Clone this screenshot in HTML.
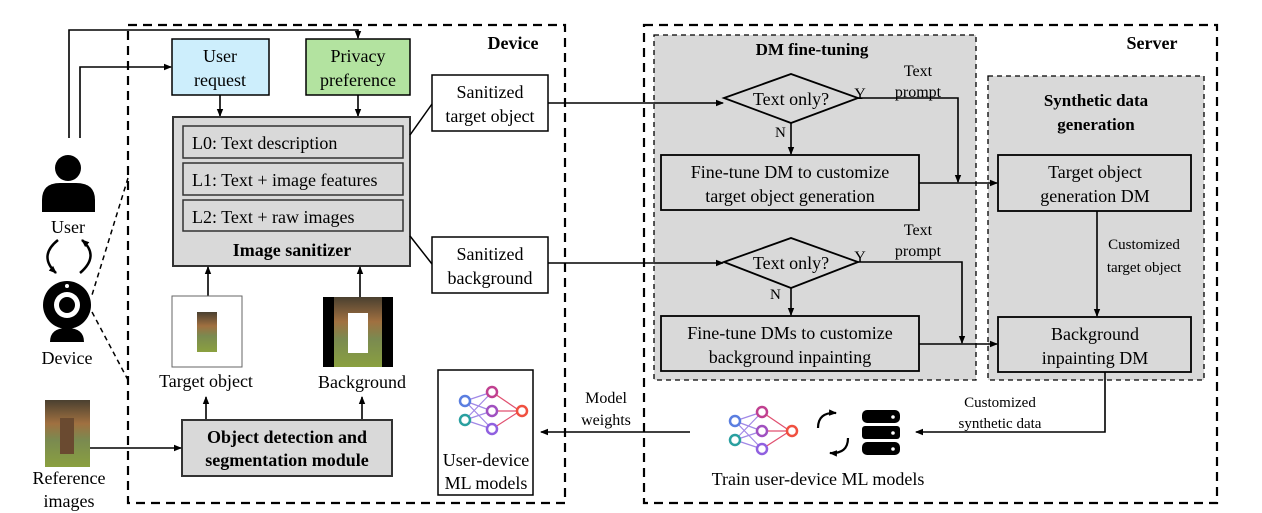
<!DOCTYPE html>
<html><head><meta charset="utf-8"><style>
html,body{margin:0;padding:0;background:#fff;}
svg{display:block;}
text{font-family:"Liberation Serif",serif;fill:#000;}
</style></head><body>
<svg width="1262" height="513" viewBox="0 0 1262 513" xmlns="http://www.w3.org/2000/svg">
<defs>
<marker id="a" markerWidth="8" markerHeight="8" refX="7" refY="4" orient="auto" markerUnits="userSpaceOnUse"><path d="M0,0.8 L8,4 L0,7.2 Z" fill="#000"/></marker>
<linearGradient id="img" x1="0" y1="0" x2="0" y2="1"><stop offset="0" stop-color="#4a4030"/><stop offset="0.35" stop-color="#a07040"/><stop offset="0.6" stop-color="#7a8a50"/><stop offset="1" stop-color="#8aa040"/></linearGradient>
</defs>

<rect x="128" y="25" width="437" height="478" fill="none" stroke="#000" stroke-width="2.2" stroke-dasharray="9,6"/>
<rect x="644" y="25" width="573" height="478" fill="none" stroke="#000" stroke-width="2.2" stroke-dasharray="9,6"/>
<rect x="654" y="35" width="322" height="345" fill="#d9d9d9" stroke="#000" stroke-width="1.3" stroke-dasharray="5,4"/>
<rect x="988" y="76" width="216" height="304" fill="#d9d9d9" stroke="#000" stroke-width="1.3" stroke-dasharray="5,4"/>

<text x="513" y="49" font-size="18" font-weight="bold" text-anchor="middle">Device</text>
<text x="1152" y="49" font-size="18" font-weight="bold" text-anchor="middle">Server</text>
<text x="812" y="55" font-size="17" font-weight="bold" text-anchor="middle">DM fine-tuning</text>
<text x="1096" y="106" font-size="17" font-weight="bold" text-anchor="middle">Synthetic data</text>
<text x="1096" y="130" font-size="17" font-weight="bold" text-anchor="middle">generation</text>

<circle cx="68" cy="168" r="13" fill="#000"/>
<path d="M42,212 L42,200 Q42,183 60,183 L76,183 Q95,183 95,200 L95,212 Z" fill="#000"/>
<text x="68" y="233" font-size="18" text-anchor="middle">User</text>
<path d="M58,240 Q38,256 56,273" fill="none" stroke="#000" stroke-width="2.5" marker-end="url(#a)"/>
<path d="M80,273 Q100,256 82,240" fill="none" stroke="#000" stroke-width="2.5" marker-end="url(#a)"/>
<circle cx="67" cy="305" r="24" fill="#000"/>
<circle cx="67" cy="305" r="13" fill="#fff"/>
<circle cx="67" cy="305" r="8" fill="#000"/>
<circle cx="67" cy="286" r="2" fill="#fff"/>
<path d="M50,342 Q50,328 67,328 Q84,328 84,342 Z" fill="#000"/>
<text x="67" y="364" font-size="18" text-anchor="middle">Device</text>
<line x1="128" y1="178" x2="92" y2="295" stroke="#000" stroke-width="1.5" stroke-dasharray="5,4"/>
<line x1="92" y1="312" x2="128" y2="380" stroke="#000" stroke-width="1.5" stroke-dasharray="5,4"/>

<polyline points="69,138 69,30 358,30 358,38" fill="none" stroke="#000" stroke-width="1.6" marker-end="url(#a)"/>
<polyline points="80,138 80,67 171,67" fill="none" stroke="#000" stroke-width="1.6" marker-end="url(#a)"/>

<rect x="172" y="39" width="97" height="56" fill="#cdeefc" stroke="#000" stroke-width="1.5"/>
<text x="220" y="62" font-size="18" text-anchor="middle">User</text>
<text x="220" y="86" font-size="18" text-anchor="middle">request</text>
<rect x="306" y="39" width="104" height="56" fill="#b3e3a0" stroke="#000" stroke-width="1.5"/>
<text x="358" y="62" font-size="18" text-anchor="middle">Privacy</text>
<text x="358" y="86" font-size="18" text-anchor="middle">preference</text>
<line x1="220" y1="95" x2="220" y2="116" stroke="#000" stroke-width="1.6" marker-end="url(#a)"/>
<line x1="358" y1="95" x2="358" y2="116" stroke="#000" stroke-width="1.6" marker-end="url(#a)"/>

<rect x="173" y="117" width="237" height="149" fill="#d9d9d9" stroke="#333" stroke-width="2"/>
<rect x="183" y="126" width="220" height="32" fill="#d9d9d9" stroke="#333" stroke-width="1.5"/>
<rect x="183" y="163" width="220" height="32" fill="#d9d9d9" stroke="#333" stroke-width="1.5"/>
<rect x="183" y="200" width="220" height="31" fill="#d9d9d9" stroke="#333" stroke-width="1.5"/>
<text x="192" y="149" font-size="18">L0: Text description</text>
<text x="192" y="186" font-size="18">L1: Text + image features</text>
<text x="192" y="223" font-size="18">L2: Text + raw images</text>
<text x="292" y="256" font-size="18" font-weight="bold" text-anchor="middle">Image sanitizer</text>

<line x1="208" y1="296" x2="208" y2="267" stroke="#000" stroke-width="1.6" marker-end="url(#a)"/>
<line x1="360" y1="297" x2="360" y2="267" stroke="#000" stroke-width="1.6" marker-end="url(#a)"/>

<rect x="172" y="296" width="70" height="71" fill="#fff" stroke="#666" stroke-width="1"/>
<rect x="197" y="312" width="20" height="40" fill="url(#img)"/>
<rect x="323" y="297" width="70" height="70" fill="#000"/>
<rect x="334" y="297" width="48" height="70" fill="url(#img)"/>
<rect x="348" y="313" width="20" height="40" fill="#fff"/>
<text x="206" y="387" font-size="18" text-anchor="middle">Target object</text>
<text x="362" y="388" font-size="18" text-anchor="middle">Background</text>
<line x1="206" y1="420" x2="206" y2="397" stroke="#000" stroke-width="1.6" marker-end="url(#a)"/>
<line x1="362" y1="420" x2="362" y2="397" stroke="#000" stroke-width="1.6" marker-end="url(#a)"/>

<rect x="182" y="420" width="210" height="56" fill="#d9d9d9" stroke="#333" stroke-width="2"/>
<text x="287" y="443" font-size="18" font-weight="bold" text-anchor="middle">Object detection and</text>
<text x="287" y="466" font-size="18" font-weight="bold" text-anchor="middle">segmentation module</text>

<rect x="45" y="400" width="45" height="67" fill="url(#img)"/>
<rect x="60" y="418" width="14" height="36" fill="#6a4a30"/>
<line x1="90" y1="448" x2="181" y2="448" stroke="#000" stroke-width="1.6" marker-end="url(#a)"/>
<text x="69" y="484" font-size="18" text-anchor="middle">Reference</text>
<text x="69" y="507" font-size="18" text-anchor="middle">images</text>

<line x1="410" y1="135" x2="432" y2="104" stroke="#000" stroke-width="1.5"/>
<line x1="410" y1="236" x2="432" y2="264" stroke="#000" stroke-width="1.5"/>
<rect x="432" y="75" width="116" height="56" fill="#fff" stroke="#000" stroke-width="1.5"/>
<text x="490" y="98" font-size="18" text-anchor="middle">Sanitized</text>
<text x="490" y="122" font-size="18" text-anchor="middle">target object</text>
<rect x="432" y="237" width="116" height="56" fill="#fff" stroke="#000" stroke-width="1.5"/>
<text x="490" y="260" font-size="18" text-anchor="middle">Sanitized</text>
<text x="490" y="284" font-size="18" text-anchor="middle">background</text>

<rect x="438" y="370" width="95" height="125" fill="#fff" stroke="#000" stroke-width="1.5"/>
<g id="nnet" fill="none" stroke-width="1.2">
<g stroke="#8a6ae0" opacity="0.8">
<line x1="465" y1="401" x2="492" y2="392"/><line x1="465" y1="401" x2="492" y2="411"/><line x1="465" y1="401" x2="492" y2="429"/>
<line x1="465" y1="420" x2="492" y2="392"/><line x1="465" y1="420" x2="492" y2="411"/><line x1="465" y1="420" x2="492" y2="429"/>
</g>
<g stroke="#e05070"><line x1="492" y1="392" x2="520" y2="411"/><line x1="492" y1="411" x2="520" y2="411"/><line x1="492" y1="429" x2="520" y2="411"/></g>
<g stroke-width="2.5" fill="#fff">
<circle cx="465" cy="401" r="5" stroke="#5a7ee0"/><circle cx="465" cy="420" r="5" stroke="#2aa0a0"/>
<circle cx="492" cy="392" r="5" stroke="#c04090"/><circle cx="492" cy="411" r="5" stroke="#a050c0"/><circle cx="492" cy="429" r="5" stroke="#9060e0"/>
<circle cx="522" cy="411" r="5" stroke="#f05040"/>
</g>
</g>
<text x="486" y="466" font-size="18" text-anchor="middle">User-device</text>
<text x="486" y="489" font-size="18" text-anchor="middle">ML models</text>

<line x1="690" y1="432" x2="541" y2="432" stroke="#000" stroke-width="1.6" marker-end="url(#a)"/>
<text x="606" y="403" font-size="16" text-anchor="middle">Model</text>
<text x="606" y="425" font-size="16" text-anchor="middle">weights</text>

<line x1="548" y1="103" x2="723" y2="103" stroke="#000" stroke-width="1.6" marker-end="url(#a)"/>
<line x1="548" y1="263" x2="723" y2="263" stroke="#000" stroke-width="1.6" marker-end="url(#a)"/>
<polygon points="724,98 791,74 858,98 791,123" fill="#d9d9d9" stroke="#000" stroke-width="1.8"/>
<text x="791" y="105" font-size="18" text-anchor="middle">Text only?</text>
<text x="860" y="99" font-size="16" text-anchor="middle">Y</text>
<text x="775" y="137" font-size="15">N</text>
<line x1="791" y1="123" x2="791" y2="154" stroke="#000" stroke-width="1.6" marker-end="url(#a)"/>
<polygon points="724,262 791,238 858,262 791,288" fill="#d9d9d9" stroke="#000" stroke-width="1.8"/>
<text x="791" y="269" font-size="18" text-anchor="middle">Text only?</text>
<text x="860" y="262" font-size="16" text-anchor="middle">Y</text>
<text x="770" y="299" font-size="15">N</text>
<line x1="791" y1="288" x2="791" y2="315" stroke="#000" stroke-width="1.6" marker-end="url(#a)"/>

<text x="918" y="76" font-size="16" text-anchor="middle">Text</text>
<text x="918" y="97" font-size="16" text-anchor="middle">prompt</text>
<text x="918" y="235" font-size="16" text-anchor="middle">Text</text>
<text x="918" y="256" font-size="16" text-anchor="middle">prompt</text>
<polyline points="858,98 958,98 958,182" fill="none" stroke="#000" stroke-width="1.6" marker-end="url(#a)"/>
<polyline points="858,262 962,262 962,343" fill="none" stroke="#000" stroke-width="1.6" marker-end="url(#a)"/>

<rect x="661" y="155" width="258" height="55" fill="#d9d9d9" stroke="#000" stroke-width="1.8"/>
<text x="790" y="178" font-size="18" text-anchor="middle">Fine-tune DM to customize</text>
<text x="790" y="202" font-size="18" text-anchor="middle">target object generation</text>
<rect x="661" y="316" width="258" height="55" fill="#d9d9d9" stroke="#000" stroke-width="1.8"/>
<text x="790" y="339" font-size="18" text-anchor="middle">Fine-tune DMs to customize</text>
<text x="790" y="363" font-size="18" text-anchor="middle">background inpainting</text>
<line x1="919" y1="183" x2="997" y2="183" stroke="#000" stroke-width="1.6" marker-end="url(#a)"/>
<line x1="919" y1="344" x2="997" y2="344" stroke="#000" stroke-width="1.6" marker-end="url(#a)"/>

<rect x="998" y="155" width="193" height="56" fill="#d9d9d9" stroke="#000" stroke-width="1.8"/>
<text x="1095" y="178" font-size="18" text-anchor="middle">Target object</text>
<text x="1095" y="202" font-size="18" text-anchor="middle">generation DM</text>
<rect x="998" y="317" width="193" height="55" fill="#d9d9d9" stroke="#000" stroke-width="1.8"/>
<text x="1095" y="340" font-size="18" text-anchor="middle">Background</text>
<text x="1095" y="364" font-size="18" text-anchor="middle">inpainting DM</text>
<line x1="1097" y1="211" x2="1097" y2="316" stroke="#000" stroke-width="1.6" marker-end="url(#a)"/>
<text x="1144" y="249" font-size="15" text-anchor="middle">Customized</text>
<text x="1144" y="272" font-size="15" text-anchor="middle">target object</text>

<polyline points="1105,372 1105,432 916,432" fill="none" stroke="#000" stroke-width="1.6" marker-end="url(#a)"/>
<text x="1000" y="407" font-size="15" text-anchor="middle">Customized</text>
<text x="1000" y="428" font-size="15" text-anchor="middle">synthetic data</text>

<use href="#nnet" transform="translate(270,20)"/>
<path d="M818,428 Q818,412 836,413" fill="none" stroke="#000" stroke-width="2.2" marker-end="url(#a)"/>
<path d="M848,438 Q848,454 830,453" fill="none" stroke="#000" stroke-width="2.2" marker-end="url(#a)"/>
<g fill="#000">
<rect x="862" y="410" width="38" height="13" rx="5"/>
<rect x="862" y="426" width="38" height="13" rx="3"/>
<rect x="862" y="442" width="38" height="13" rx="5"/>
</g>
<g fill="#fff"><circle cx="893" cy="417" r="1.8"/><circle cx="893" cy="433" r="1.8"/><circle cx="893" cy="449" r="1.8"/></g>
<text x="818" y="485" font-size="18" text-anchor="middle">Train user-device ML models</text>
</svg>
</body></html>
